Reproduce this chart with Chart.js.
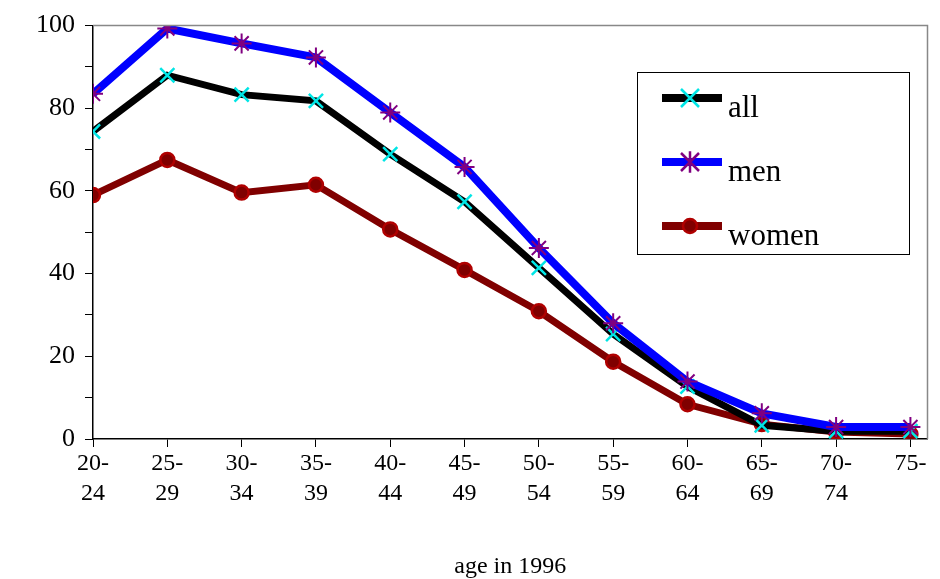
<!DOCTYPE html><html><head><script src="https://cdn.jsdelivr.net/npm/chart.js@4"></script>
<style>body{margin:0;background:#fff}#w{width:940px;height:579px}</style></head><body><div id="w"><canvas id="c"></canvas></div>
<script>
const categories=["20-\n24","25-\n29","30-\n34","35-\n39","40-\n44","45-\n49","50-\n54","55-\n59","60-\n64","65-\n69","70-\n74","75-"];
const allV=[74.4,88,83.3,81.8,68.9,57.4,41.4,25.4,12.7,3.3,1.9,1.9];
const menV=[83.5,99.3,95.7,92.3,79,65.8,46.2,28,13.9,6.2,2.9,2.9];
const womenV=[59,67.5,59.6,61.5,50.7,40.9,30.9,18.7,8.4,3.6,1.7,1.2];
const F="'Liberation Serif', serif";
const pts=a=>a.map((y,i)=>({x:i,y}));
const ds=[
 {label:'women',data:pts(womenV),borderColor:'#800000',borderWidth:7,pointStyle:'circle',pointRadius:7,pointBorderWidth:2.5,pointBorderColor:'#b00000',pointBackgroundColor:'#800000',order:3},
 {label:'all',data:pts(allV),borderColor:'#000',borderWidth:7,pointStyle:'crossRot',pointRadius:10,pointBorderWidth:2.5,pointBorderColor:'#00e5e5',order:2},
 {label:'men',data:pts(menV),borderColor:'#0000ff',borderWidth:8,pointStyle:'star',pointRadius:10,pointBorderWidth:2,pointBorderColor:'#800080',order:1}
];
const deco={id:'deco',afterDraw(ch){const c=ch.ctx,a=ch.chartArea;c.save();
 c.strokeStyle='#888';c.lineWidth=1.5;c.beginPath();c.moveTo(a.left,a.top);c.lineTo(a.right,a.top);c.lineTo(a.right,a.bottom);c.stroke();
 c.strokeStyle='#000';c.lineWidth=1;c.strokeRect(637.5,72.5,272,182);
 const items=[['all','#000','#00e5e5','x',98],['men','#0000ff','#800080','s',162],['women','#800000','#b00000','o',226]];
 c.font='31px '+F;c.textBaseline='middle';
 for(const [t,lc,mc,m,y] of items){c.strokeStyle=lc;c.lineWidth=8;c.beginPath();c.moveTo(662,y);c.lineTo(722,y);c.stroke();
  c.strokeStyle=mc;c.lineWidth=2.5;const x=690,r=9;c.beginPath();
  if(m==='o'){c.fillStyle='#800000';c.arc(x,y,7,0,Math.PI*2);c.fill();c.stroke();}
  else{c.moveTo(x-r,y-r);c.lineTo(x+r,y+r);c.moveTo(x-r,y+r);c.lineTo(x+r,y-r);if(m==='s'){c.moveTo(x,y-r*1.2);c.lineTo(x,y+r*1.2);}c.stroke();}
  c.fillStyle='#000';c.fillText(t,728,y+11);}
 c.restore();}};
new Chart(document.getElementById('c'),{type:'line',data:{datasets:ds},plugins:[deco],
options:{responsive:true,maintainAspectRatio:false,animation:false,layout:{padding:{top:0,right:0,left:26,bottom:0}},
plugins:{legend:{display:false},tooltip:{enabled:false}},
scales:{x:{type:'linear',min:0,max:11.23,border:{color:'#000',width:1.5},grid:{drawOnChartArea:false,tickLength:8,color:'#000'},
 afterBuildTicks:s=>{s.ticks=categories.map((_,i)=>({value:i}));},
 ticks:{autoSkip:false,maxRotation:0,color:'#000',font:{family:F,size:24,lineHeight:1.25},padding:2,callback:v=>categories[v].split('\n')},
 title:{display:true,text:'age in 1996',color:'#000',font:{family:F,size:24,lineHeight:1.0},padding:{top:44,bottom:0}}},
 y:{min:0,max:100,border:{color:'#000',width:1.5},grid:{drawOnChartArea:false,tickLength:8,color:'#000'},
 ticks:{stepSize:10,autoSkip:false,color:'#000',font:{family:F,size:26},padding:10,callback:v=>v%20===0?v:''}}}}});
</script></body></html>
